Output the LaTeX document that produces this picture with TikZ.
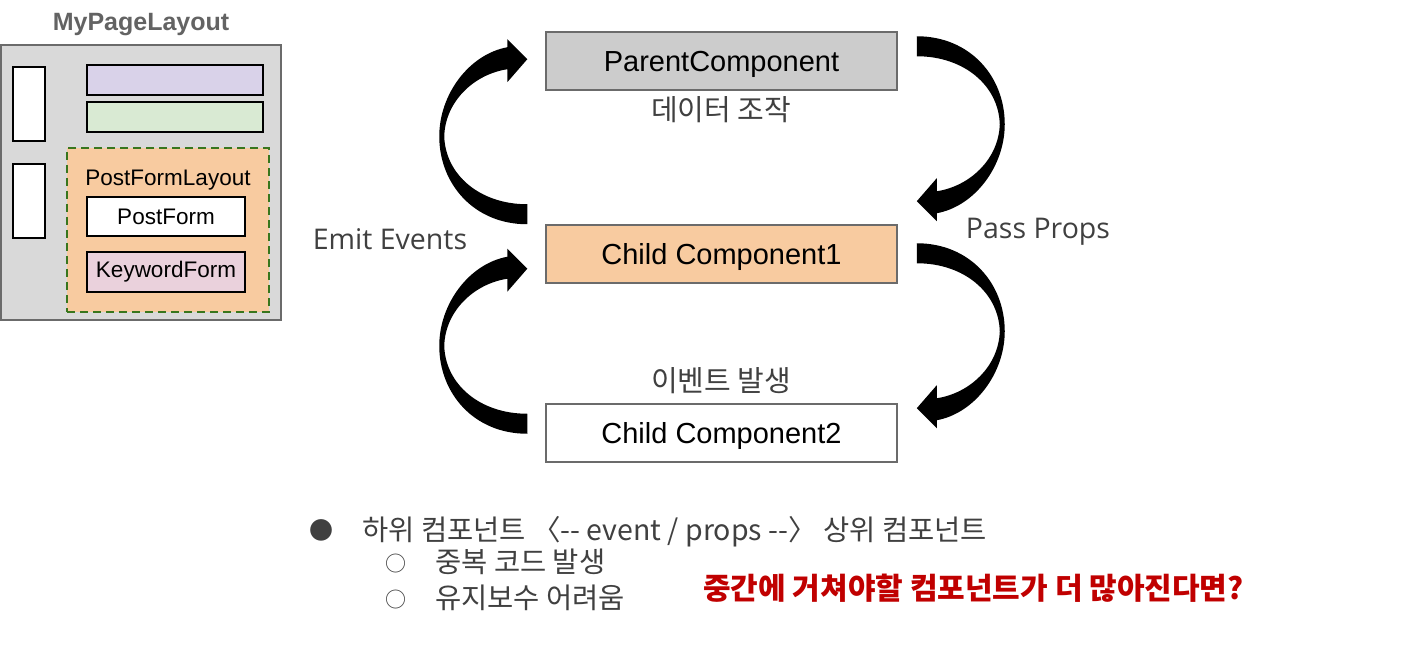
\documentclass[tikz,border=0pt]{standalone}
\usepackage{fontspec}
\setmainfont{Liberation Sans}
\newfontfamily\kr{Noto Sans CJK KR}
\newfontfamily\seg{Open Sans}
\usetikzlibrary{calc}
\definecolor{boxline}{HTML}{6B6B6B}
\definecolor{panelgray}{HTML}{D9D9D9}
\definecolor{parentgray}{HTML}{CCCCCC}
\definecolor{orangefill}{HTML}{F8CBA0}
\definecolor{lavender}{HTML}{D9D2E9}
\definecolor{mint}{HTML}{D9EAD3}
\definecolor{pinkfill}{HTML}{EAD1DC}
\definecolor{dgreen}{HTML}{38761D}
\definecolor{txtgray}{HTML}{404040}
\definecolor{titlegray}{HTML}{636363}
\definecolor{redtxt}{HTML}{C00000}
\tikzset{
  compbox/.style={draw=boxline, line width=1.5pt, minimum width=351pt, minimum height=58pt, text height=21pt, text depth=0pt, font=\fontsize{29}{33}\selectfont},
  smallbox/.style={draw=black, line width=1.5pt},
  panelfont/.style={font=\fontsize{22.5}{26}\selectfont},
  label/.style={font=\kr\fontsize{29}{33}\selectfont, text=txtgray},
  side/.style={font=\seg\fontsize{28.5}{33}\selectfont, text=txtgray, text height=20.5pt, text depth=0pt},
  listtxt/.style={font=\kr\fontsize{28.5}{33}\selectfont, text=txtgray, anchor=base west, inner sep=0pt},
  carrow/.pic={\fill (0,0) .. controls (-53,0) and (-88,-40) .. (-88,-88)
      .. controls (-88,-130) and (-58,-170) .. (-20,-177) -- (-20,-185) -- (0,-165)
      -- (-20,-142) -- (-20,-155) .. controls (-53,-150) and (-82,-123) .. (-83,-88)
      .. controls (-82,-50) and (-48,-20) .. (0,-20) -- cycle;}
}
\begin{document}
\begin{tikzpicture}[x=1pt,y=-1pt]
\useasboundingbox (0,0) rectangle (1423,652);
% ---------- left panel ----------
\node[font=\bfseries\fontsize{25}{29}\selectfont, text=titlegray] (title) at (141,25) {MyPageLayout};
\node[draw=boxline, fill=panelgray, line width=1.5pt, minimum width=280pt, minimum height=275pt] (panel) at (141,182.5) {};
\node[smallbox, fill=white, minimum width=32pt, minimum height=74pt] (w1) at (29,104) {};
\node[smallbox, fill=white, minimum width=32pt, minimum height=74pt] (w2) at (29,201) {};
\node[smallbox, fill=lavender, minimum width=176pt, minimum height=30pt] (lav) at (175,80) {};
\node[smallbox, fill=mint, minimum width=176pt, minimum height=30pt] (mint) at (175,117) {};
\node[draw=dgreen, fill=orangefill, line width=2.6pt, dash pattern=on 8pt off 5pt, minimum width=202pt, minimum height=164pt] (pfl) at (168,230) {};
\node[panelfont] (pfltxt) at (168,180) {PostFormLayout};
\node[smallbox, fill=white, minimum width=158pt, minimum height=39pt, panelfont] (pf) at (166,216.5) {PostForm};
\node[smallbox, fill=pinkfill, minimum width=158pt, minimum height=40pt, panelfont] (kf) at (166,272) {KeywordForm};
% ---------- components ----------
\node[compbox, fill=parentgray] (parent) at (721.5,61) {ParentComponent};
\node[compbox, fill=orangefill] (child1) at (721.5,254) {Child Component1};
\node[compbox, fill=white] (child2) at (721.5,433) {Child Component2};
\node[label] (manip) at (721,110) {데이터 조작};
\node[label] (evt) at (721,381) {이벤트 발생};
\node[side] (emit) at (390,239) {Emit Events};
\node[side] (pass) at (1038,228) {Pass Props};
% ---------- curved arrows ----------
\coordinate (la1) at ($(child1.north west)+(-18,0)$);
\coordinate (la2) at ($(child2.south west)+(-18,-29)$);
\coordinate (ra1) at ($(parent.north east)+(19,5)$);
\coordinate (ra2) at ($(child1.north east)+(19,19)$);
\pic at (la1) {carrow};
\pic at (la2) {carrow};
\pic[rotate=180] at (ra1) {carrow};
\pic[rotate=180] at (ra2) {carrow};
% ---------- bottom text ----------
\node[listtxt, font=\kr\fontsize{24}{28}\selectfont] (b0) at (309,539) {●};
\node[listtxt] (l0) at (362,540) {하위 컴포넌트 〈-- event / props --〉 상위 컴포넌트};
\node[listtxt, font=\kr\fontsize{21}{24}\selectfont] (b1) at (385,571) {○};
\node[listtxt] (l1) at (435,572) {중복 코드 발생};
\node[listtxt, font=\kr\fontsize{21}{24}\selectfont] (b2) at (385,607) {○};
\node[listtxt] (l2) at (435,608) {유지보수 어려움};
\node[font=\kr\bfseries\fontsize{30}{34}\selectfont, text=redtxt, anchor=base west, inner sep=0pt] (q) at (703,599) {중간에 거쳐야할 컴포넌트가 더 많아진다면?};
\end{tikzpicture}
\end{document}
